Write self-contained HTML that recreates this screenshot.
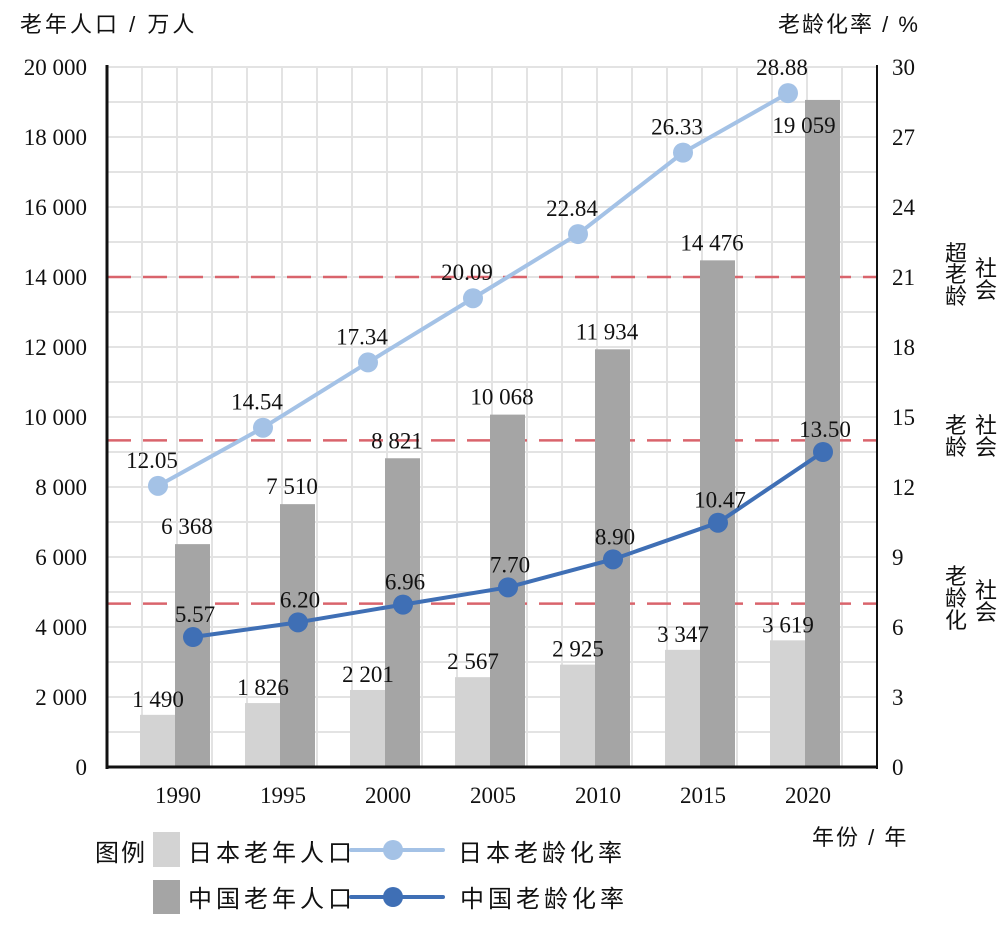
<!DOCTYPE html>
<html><head><meta charset="utf-8">
<style>
html,body{margin:0;padding:0;background:#fff;}
svg{display:block;}
.serif{font-family:"Liberation Serif","Noto Serif CJK SC",serif;}
.sans{font-family:"Liberation Sans","Noto Sans CJK SC",sans-serif;}
</style></head>
<body>
<svg id="chart" width="1004" height="933" viewBox="0 0 1004 933" xmlns="http://www.w3.org/2000/svg">
<g id="grid"></g>
<g id="refs"></g>
<g id="bars"></g>
<g id="lines"></g>
<g id="axes"></g>
<text class="sans" x="20" y="32" font-size="22" letter-spacing="3" fill="#111">老年人口 / 万人</text>
<text class="sans" x="778" y="32" font-size="22" letter-spacing="2" fill="#111">老龄化率 / %</text>
<text class="sans" x="812" y="845" font-size="22" letter-spacing="2" fill="#111">年份 / 年</text>
<g class="sans" font-size="22" fill="#111">
<text x="945" y="261">超</text><text x="945" y="282">老</text><text x="945" y="304">龄</text>
<text x="975" y="276">社</text><text x="975" y="298">会</text></g>
<g class="sans" font-size="22" fill="#111">
<text x="945" y="433">老</text><text x="945" y="455">龄</text>
<text x="975" y="433">社</text><text x="975" y="455">会</text></g>
<g class="sans" font-size="22" fill="#111">
<text x="945" y="584">老</text><text x="945" y="606">龄</text><text x="945" y="628">化</text>
<text x="975" y="598">社</text><text x="975" y="620">会</text></g>
<g class="sans" font-size="24" letter-spacing="4" fill="#111">
<text x="95" y="861" letter-spacing="2">图例</text>
<rect x="153" y="832" width="27" height="35" fill="#d3d3d3"/>
<text x="188" y="861">日本老年人口</text>
<rect x="153" y="880" width="27" height="34" fill="#a5a5a5"/>
<text x="188" y="907">中国老年人口</text>
<line x1="351" y1="850" x2="443" y2="850" stroke="#a4c2e6" stroke-width="4" stroke-linecap="round"/>
<circle cx="393" cy="850" r="10" fill="#a4c2e6"/>
<text x="458" y="861">日本老龄化率</text>
<line x1="351" y1="897" x2="443" y2="897" stroke="#3f6fb5" stroke-width="4" stroke-linecap="round"/>
<circle cx="393" cy="897" r="10" fill="#3f6fb5"/>
<text x="460" y="907">中国老龄化率</text>
</g>
</svg>
<script>
const years = ["1990","1995","2000","2005","2010","2015","2020"];
const japanPop = [1490,1826,2201,2567,2925,3347,3619];
const chinaPop = [6368,7510,8821,10068,11934,14476,19059];
const japanRate = [12.05,14.54,17.34,20.09,22.84,26.33,28.88];
const chinaRate = [5.57,6.20,6.96,7.70,8.90,10.47,13.50];
const leftTicks = [0,2000,4000,6000,8000,10000,12000,14000,16000,18000,20000];
const rightTicks = [0,3,6,9,12,15,18,21,24,27,30];
const refRates = [7,14,21];

const NS="http://www.w3.org/2000/svg";
const X0=107,X1=877,Y0=767,Y1=67;
const FS=23;
const yL=v=>Y0-(v/20000)*(Y0-Y1);
const yR=v=>Y0-(v/30)*(Y0-Y1);
const cx=i=>175+105*i;
const fmt=n=>{const s=String(n);return s.length>3?s.slice(0,-3)+" "+s.slice(-3):s;};
function mk(tag,attrs,parent,text){const e=document.createElementNS(NS,tag);for(const k in attrs)e.setAttribute(k,attrs[k]);if(text!==undefined)e.textContent=text;parent.appendChild(e);return e;}
const grid=document.getElementById('grid'),refs=document.getElementById('refs'),bars=document.getElementById('bars'),lines=document.getElementById('lines'),axes=document.getElementById('axes');

for(let x=X0+35;x<X1;x+=35){const l=mk('line',{x1:x,y1:Y1,x2:x,y2:Y0,stroke:'#e3e3e3','stroke-width':2},grid);

}
for(let v=1000;v<=20000;v+=1000){const y=yL(v);const l=mk('line',{x1:X0,y1:y,x2:X1,y2:y,stroke:'#e3e3e3','stroke-width':2},grid);

}

refRates.forEach(r=>{const y=yR(r);const l=mk('line',{x1:X0,y1:y,x2:X1,y2:y,stroke:'#d9646c','stroke-width':2.5,'stroke-dasharray':'24 12'},refs);

});

years.forEach((yr,i)=>{const c=cx(i);
const jb=mk('rect',{x:c-35,y:yL(japanPop[i]),width:35,height:Y0-yL(japanPop[i]),fill:'#d3d3d3'},bars);


const cb=mk('rect',{x:c,y:yL(chinaPop[i]),width:35,height:Y0-yL(chinaPop[i]),fill:'#a5a5a5'},bars);


const jl=mk('text',{x:c-17,y:yL(japanPop[i])-8,'text-anchor':'middle','font-size':FS,class:'serif',fill:'#111'},bars,fmt(japanPop[i]));


const last=i===years.length-1;
const cly=last?yL(chinaPop[i])+33:yL(chinaPop[i])-10;
const cl=mk('text',{x:last?c-1:c+12,y:cly,'text-anchor':'middle','font-size':FS,class:'serif',fill:'#111'},bars,fmt(chinaPop[i]));


const xl=mk('text',{x:c+3,y:803,'text-anchor':'middle','font-size':FS,class:'serif',fill:'#111'},axes,yr);


});

function series(vals,color,dx,name,labDy){
const pts=vals.map((v,i)=>[cx(i)+dx,yR(v)]);
const p=mk('polyline',{points:pts.map(p=>p.join(',')).join(' '),fill:'none',stroke:color,'stroke-width':4,'stroke-linejoin':'round'},lines);


pts.forEach((pt,i)=>{const c=mk('circle',{cx:pt[0],cy:pt[1],r:10,fill:color},lines);


const t=mk('text',{x:pt[0]+(name==='japan-rate'?-6:2),y:pt[1]+labDy,'text-anchor':'middle','font-size':FS,class:'serif',fill:'#111'},lines,vals[i].toFixed(2));

});}
series(japanRate,'#a4c2e6',-17,'japan-rate',-18);
series(chinaRate,'#3f6fb5',18,'china-rate',-15);

const la=mk('line',{x1:X0,y1:Y1-2,x2:X0,y2:Y0+2,stroke:'#111','stroke-width':3},axes);


const ra=mk('line',{x1:X1,y1:Y1-2,x2:X1,y2:Y0+2,stroke:'#111','stroke-width':2},axes);


const ba=mk('line',{x1:X0,y1:Y0,x2:X1,y2:Y0,stroke:'#111','stroke-width':3},axes);


leftTicks.forEach(v=>{const t=mk('text',{x:87,y:yL(v)+8,'text-anchor':'end','font-size':FS,class:'serif',fill:'#111'},axes,fmt(v));

});
rightTicks.forEach(v=>{const t=mk('text',{x:892,y:yR(v)+8,'font-size':FS,class:'serif',fill:'#111'},axes,String(v));

});
</script>
</body></html>
